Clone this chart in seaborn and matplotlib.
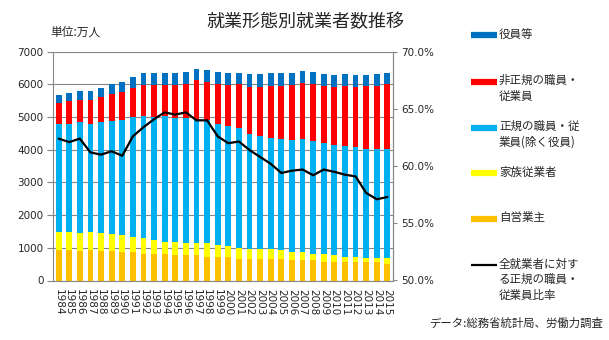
import numpy as np
import pandas as pd
import matplotlib
matplotlib.use("Agg")
import matplotlib.pyplot as plt
from matplotlib.lines import Line2D
from matplotlib.ticker import FuncFormatter, FixedLocator
import seaborn as sns

# ---- data (万人) ----
years = list(range(1984, 2016))
self_employed = [918, 918, 888, 918, 888, 888, 857, 857, 826, 796, 796, 765, 765, 765, 734, 734,
                 734, 673, 673, 643, 643, 643, 612, 612, 612, 581, 581, 551, 551, 551, 551, 520]
family_workers = [562, 562, 561, 562, 561, 520, 520, 489, 469, 438, 397, 398, 367, 367, 398, 366,
                  326, 336, 306, 306, 306, 275, 255, 245, 214, 215, 184, 183, 183, 152, 152, 183]
regular = [3316, 3316, 3398, 3316, 3398, 3459, 3541, 3644, 3725, 3756, 3827, 3807, 3838, 3786, 3786, 3696,
           3654, 3654, 3501, 3459, 3408, 3409, 3419, 3460, 3429, 3408, 3368, 3378, 3337, 3317, 3307, 3307]
non_regular = [622, 684, 673, 724, 753, 833, 847, 897, 946, 976, 946, 996, 1030, 1210, 1169, 1230,
               1252, 1353, 1426, 1498, 1586, 1616, 1680, 1738, 1745, 1739, 1773, 1831, 1835, 1923, 1933, 1990]
executives = [272, 265, 266, 266, 287, 305, 322, 353, 377, 397, 377, 397, 394, 358, 368, 368,
              377, 347, 406, 406, 400, 400, 397, 369, 394, 369, 375, 369, 375, 338, 369, 343]
regular_ratio = [62.4, 62.1, 62.4, 61.2, 61.0, 61.3, 60.9, 62.6, 63.4, 64.1, 64.7, 64.5, 64.7, 64.0, 64.0, 62.6,
                 62.0, 62.15, 61.4, 60.8, 60.2, 59.4, 59.6, 59.7, 59.2, 59.7, 59.5, 59.25, 59.1, 57.65, 57.1, 57.3]

layer_names = ["自営業主", "家族従業者", "正規の職員・従業員(除く役員)", "非正規の職員・従業員", "役員等"]
layer_colors = ["#FFC000", "#FFFF00", "#00B0F0", "#FF0000", "#0070C0"]

df = pd.DataFrame({
    "year": [str(y) for y in years],
    layer_names[0]: self_employed,
    layer_names[1]: family_workers,
    layer_names[2]: regular,
    layer_names[3]: non_regular,
    layer_names[4]: executives,
})
cum = df[layer_names].cumsum(axis=1)

sns.set_style("white")
plt.rcParams["font.family"] = ["DejaVu Sans", "Noto Sans CJK JP"]
CJK = ["Noto Sans CJK JP", "DejaVu Sans"]

W, H = 609, 340
fig = plt.figure(figsize=(W / 100, H / 100), dpi=100)
ax = fig.add_axes([53.3 / W, (H - 280.5) / H, (392.7 - 53.3) / W, (280.5 - 51.7) / H])

# stacked bars: draw cumulative totals from the top layer down
for name, color in zip(reversed(layer_names), reversed(layer_colors)):
    sns.barplot(x=df["year"], y=cum[name], color=color, width=0.55,
                saturation=1, linewidth=0, ax=ax, zorder=2)

grid_color = "#868686"
ax.set_xlim(-0.5, len(years) - 0.5)
ax.set_ylim(0, 7000)
ax.set_yticks(range(0, 7001, 1000))
ax.yaxis.grid(True, color=grid_color, linewidth=0.8)
ax.set_axisbelow(True)
ax.set_xlabel("")
ax.set_ylabel("")
ax.tick_params(axis="y", labelsize=7.5, length=4, color=grid_color, pad=3)
ax.set_xticks(range(len(years)))
ax.set_xticklabels([str(y) for y in years], rotation=-90, fontsize=7.5)
ax.tick_params(axis="x", which="major", length=0, pad=6)
ax.xaxis.set_minor_locator(FixedLocator(np.arange(-0.5, len(years), 1.0)))
ax.tick_params(axis="x", which="minor", length=4, color=grid_color)
for side in ["left", "bottom", "right"]:
    ax.spines[side].set_color(grid_color)
    ax.spines[side].set_linewidth(0.8)
ax.spines["top"].set_visible(False)

# ratio line on the secondary axis
ax2 = ax.twinx()
sns.lineplot(x=np.arange(len(years)), y=regular_ratio, color="black", linewidth=1.6, ax=ax2, zorder=5)
ax2.set_xlim(-0.5, len(years) - 0.5)
ax2.set_ylim(50, 70)
ax2.set_yticks(np.arange(50, 70.1, 5))
ax2.yaxis.set_major_formatter(FuncFormatter(lambda v, p: f"{v:.1f}%"))
ax2.tick_params(axis="y", labelsize=7.5, length=3, color=grid_color, pad=3)
for side in ["left", "bottom", "top"]:
    ax2.spines[side].set_visible(False)
ax2.spines["right"].set_color(grid_color)
ax2.spines["right"].set_linewidth(0.8)

# titles and notes
fig.text(305 / W, 1 - 21.7 / H, "就業形態別就業者数推移", family=CJK, fontsize=13,
         ha="center", va="center")
fig.text(50 / W, 1 - 31.7 / H, "単位:万人", family=CJK, fontsize=8.5, ha="left", va="center")
fig.text(603 / W, 1 - 323 / H, "データ:総務省統計局、労働力調査", family=CJK, fontsize=8.2,
         ha="right", va="center")

# legend on the right
legend_items = [
    ("役員等", layer_colors[4], 35, 4.5),
    ("非正規の職員・\n従業員", layer_colors[3], 81.7, 4.5),
    ("正規の職員・従\n業員(除く役員)", layer_colors[2], 127.7, 4.5),
    ("家族従業者", layer_colors[1], 173, 4.5),
    ("自営業主", layer_colors[0], 219, 4.5),
    ("全就業者に対す\nる正規の職員・\n従業員比率", "black", 265, 1.6),
]
for label, color, ypix, lw in legend_items:
    yf = 1 - ypix / H
    fig.add_artist(Line2D([471 / W, 497 / W], [yf, yf], color=color, linewidth=lw,
                          solid_capstyle="butt", transform=fig.transFigure))
    fig.text(499 / W, 1 - (ypix - 7.5) / H, label, family=CJK, fontsize=8.3,
             ha="left", va="top", linespacing=1.25)

fig.savefig("out.png", dpi=100)
